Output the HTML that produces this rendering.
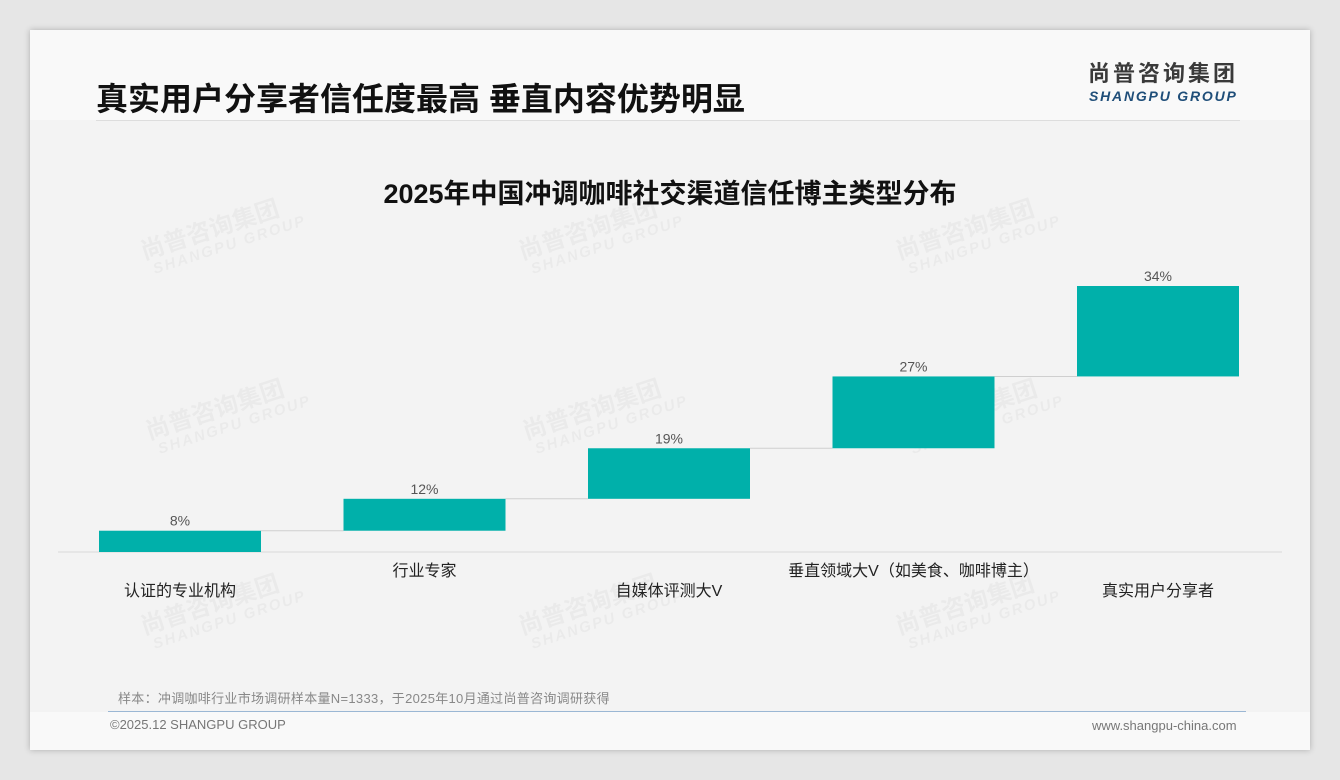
<!DOCTYPE html>
<html><head><meta charset="utf-8">
<style>
body{margin:0;width:1340px;height:780px;background:#e6e6e6;font-family:"Liberation Sans","Noto Sans CJK SC",sans-serif;overflow:hidden;position:relative}
#card{position:absolute;left:30px;top:30px;width:1280px;height:720px;background:#f9f9f9;box-shadow:0 0 6px rgba(0,0,0,.25)}
#area{position:absolute;left:30px;top:120px;width:1280px;height:592px;background:#f3f3f3}
.t{position:absolute;white-space:nowrap}
.wm{position:absolute;color:rgba(0,0,0,0.035);transform:rotate(-18deg);font-weight:bold;line-height:1}
</style></head><body>
<div id="card"></div>
<div id="area"></div>
<div class="t" style="left:96px;top:74px;font-size:32px;font-weight:bold;color:#111">真实用户分享者信任度最高 垂直内容优势明显</div>
<div class="t" style="left:1088px;top:60px;font-size:22px;line-height:28px;font-weight:bold;color:#3a3a3a;letter-spacing:3px">尚普咨询集团</div>
<div class="t" style="left:1089px;top:88px;font-size:14px;line-height:16px;font-weight:bold;font-style:italic;color:#1f4e79;letter-spacing:1.8px">SHANGPU GROUP</div>
<div style="position:absolute;left:96px;top:120px;width:1144px;height:1px;background:#ddd"></div>
<div class="t" style="left:0;width:1340px;text-align:center;top:172px;font-size:27px;font-weight:bold;color:#111">2025年中国冲调咖啡社交渠道信任博主类型分布</div>
<div id="wms"></div>
<svg id="chart" width="1340" height="780" style="position:absolute;left:0;top:0"></svg>
<div class="t" style="left:118px;top:688px;font-size:13px;color:#888;letter-spacing:0.3px">样本：冲调咖啡行业市场调研样本量N=1333，于2025年10月通过尚普咨询调研获得</div>
<div style="position:absolute;left:108px;top:711px;width:1138px;height:1px;background:#9bb7d4"></div>
<div class="t" style="left:110px;top:717px;font-size:13px;color:#777">©2025.12 SHANGPU GROUP</div>
<div class="t" style="left:1092px;top:718px;font-size:13px;color:#777">www.shangpu-china.com</div>
<script>
const categories=["认证的专业机构","行业专家","自媒体评测大V","垂直领域大V（如美食、咖啡博主）","真实用户分享者"];
const values=[8,12,19,27,34];
const labels=["8%","12%","19%","27%","34%"];
const NS="http://www.w3.org/2000/svg";
const svg=document.getElementById('chart');
const base=552,scale=2.66,x0=99,step=244.5,bw=162;
const y=v=>base-v*scale;
const xb=i=>x0+i*step;
function mk(tag,attrs){const e=document.createElementNS(NS,tag);for(const k in attrs)e.setAttribute(k,attrs[k]);svg.appendChild(e);return e;}
const ax=mk('line',{x1:58,x2:1282,y1:base,y2:base,stroke:'#d8d8d8','stroke-width':1});


let cum=0;
values.forEach((v,i)=>{
  const b1=cum+v;cum=b1;
  const r=mk('rect',{x:xb(i),y:y(b1),width:bw,height:v*scale,fill:'#00b0aa'});
  
  
  if(i<values.length-1){
    const c=mk('line',{x1:xb(i)+bw,x2:xb(i+1),y1:y(b1),y2:y(b1),stroke:'#cfcfcf','stroke-width':1});
    
    
  }
  const t=mk('text',{x:xb(i)+bw/2,y:y(b1)-5,'text-anchor':'middle','font-size':14,fill:'#555','font-family':'Liberation Sans, sans-serif'});
  t.textContent=labels[i];
  
  
  const c2=mk('text',{x:xb(i)+bw/2,y:i%2===0?596:576,'text-anchor':'middle','font-size':16,fill:'#222','font-family':'Liberation Sans, Noto Sans CJK SC, sans-serif'});
  c2.textContent=categories[i];
  
  
});
const wmPos=[[140,215],[518,215],[895,215],[145,395],[522,395],[898,395],[140,590],[518,590],[895,590]];
const wms=document.getElementById('wms');
wmPos.forEach((p,i)=>{
  const d=document.createElement('div');
  d.className='wm';
  d.style.left=p[0]+'px';d.style.top=p[1]+'px';
  d.innerHTML='<div style="font-size:24px">尚普咨询集团</div><div style="font-size:15px;font-style:italic;letter-spacing:2px;margin-left:6px">SHANGPU GROUP</div>';
  
  
  wms.appendChild(d);
});
</script>
</body></html>
